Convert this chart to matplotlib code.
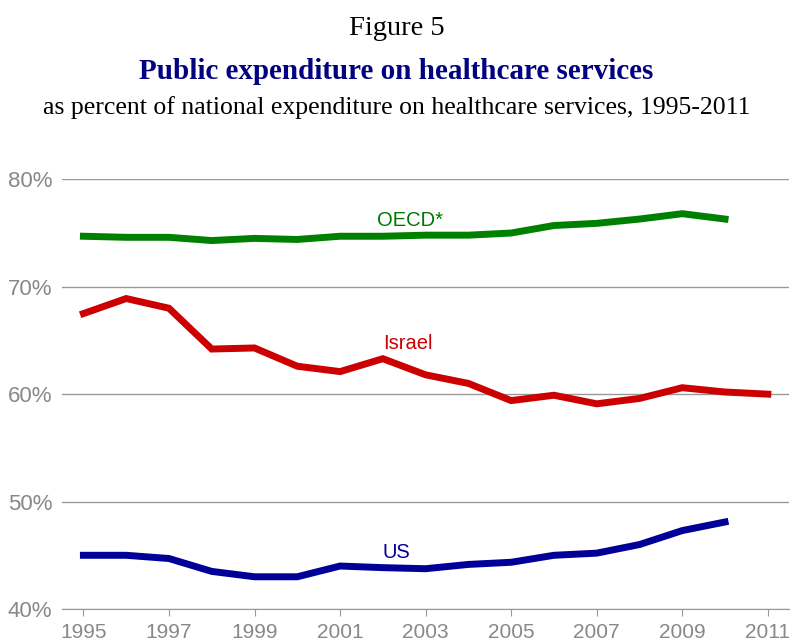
import matplotlib.pyplot as plt
import numpy as np

years = np.arange(1995, 2012)
oecd = [74.7, 74.6, 74.6, 74.3, 74.5, 74.4, 74.7, 74.7, 74.8, 74.8, 75.0,
        75.7, 75.9, 76.3, 76.8, 76.3]
israel = [67.5, 68.9, 68.0, 64.2, 64.3, 62.6, 62.1, 63.3, 61.8, 61.0, 59.4,
          59.9, 59.1, 59.6, 60.6, 60.2, 60.0]
us = [45.0, 45.0, 44.7, 43.5, 43.0, 43.0, 44.0, 43.85, 43.75, 44.15, 44.35,
      45.0, 45.2, 46.0, 47.3, 48.1]

yticks = [40, 50, 60, 70, 80]
xticks = np.arange(1995, 2012, 2)

green = "#008000"
red = "#cc0000"
navy = "#000099"
grey = "#888888"

fig = plt.figure(figsize=(7.93, 6.42), dpi=100)
ax = fig.add_axes([0.0782, 0.0514, 0.917, 0.6693])

ax.plot(years[:len(oecd)], oecd, color=green, lw=5, solid_joinstyle="miter", clip_on=False)
ax.plot(years[:len(israel)], israel, color=red, lw=5, solid_joinstyle="miter", clip_on=False)
ax.plot(years[:len(us)], us, color=navy, lw=5, solid_joinstyle="miter", clip_on=False)

lab = dict(family="Liberation Sans", fontsize=14.5, ha="center", va="center")
ax.text(2002.63, 76.2, "OECD*", color="#007700", **lab)
ax.text(2002.58, 64.73, "Israel", color=red, **lab)
ax.text(2002.32, 45.3, "US", color=navy, **lab)

ax.set_xlim(1994.5, 2011.5)
ax.set_ylim(40, 80)
ax.set_yticks(yticks)
ax.set_yticklabels([f"{v}%" for v in yticks])
ax.set_xticks(xticks)
ax.grid(axis="y", color="#999999", lw=1)
ax.set_axisbelow(True)
for s in ["top", "right", "left"]:
    ax.spines[s].set_visible(False)
ax.spines["bottom"].set_color("#999999")
ax.tick_params(axis="y", length=0, pad=7, labelsize=16, labelcolor=grey)
ax.tick_params(axis="x", length=5, color="#999999", pad=5, labelsize=15, labelcolor=grey)
for t in ax.get_xticklabels() + ax.get_yticklabels():
    t.set_family("Liberation Sans")

fig.text(0.5, 0.955, "Figure 5", family="Liberation Serif", fontsize=20.5,
         ha="center", va="center")
fig.text(0.5, 0.888, "Public expenditure on healthcare services", family="Liberation Serif",
         fontsize=21, weight="bold", color="#000080", ha="center", va="center")
fig.text(0.5, 0.833, "as percent of national expenditure on healthcare services, 1995-2011",
         family="Liberation Serif", fontsize=18.5, ha="center", va="center")

fig.savefig("out.png", dpi=100)
